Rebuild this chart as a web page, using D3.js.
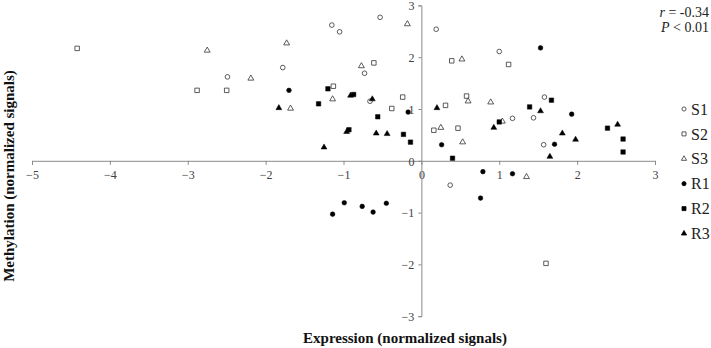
<!DOCTYPE html>
<html>
<head>
<meta charset="utf-8">
<script src="https://cdn.jsdelivr.net/npm/d3@7.8.5/dist/d3.min.js"></script>
<style>
  html, body { margin: 0; padding: 0; background: #fff; }
  svg { display: block; font-family: "Liberation Serif", "Times New Roman", serif; }
</style>
</head>
<body>
<svg id="chart" width="711" height="348"></svg>
<script>
// series values: [expression, methylation]
const S1 = [[-1.15, 2.62], [-1.05, 2.49], [-1.78, 1.80], [-2.49, 1.62], [-0.53, 2.77], [-0.73, 1.69],
  [-0.66, 1.15], [0.19, 2.54], [1.00, 2.11], [1.58, 1.23], [1.17, 0.82], [1.44, 0.83], [1.57, 0.31], [0.37, -0.47]];
const S2 = [[-4.42, 2.17], [-2.88, 1.36], [-2.50, 1.36], [-1.13, 1.44], [-0.61, 1.89], [-0.24, 1.23],
  [-0.38, 1.01], [0.39, 1.93], [1.12, 1.86], [0.58, 1.25], [0.31, 1.07], [0.16, 0.59], [0.47, 0.63], [1.60, -1.98]];
const S3 = [[-2.75, 2.13], [-1.73, 2.27], [-2.19, 1.59], [-1.68, 1.01], [-1.14, 1.19], [-0.77, 1.83],
  [-0.18, 2.64], [0.52, 1.96], [0.60, 1.15], [0.89, 1.13], [0.25, 0.64], [0.53, 0.36], [1.04, 0.76], [1.35, -0.31]];
const R1 = [[-1.70, 1.36], [-0.17, 0.94], [-1.14, -1.03], [-0.99, -0.81], [-0.76, -0.88], [-0.62, -0.99],
  [-0.45, -0.82], [1.53, 2.18], [0.26, 0.31], [0.79, -0.21], [1.17, -0.25], [0.76, -0.72], [1.71, 0.32], [1.93, 0.90]];
const R2 = [[-1.20, 1.39], [-1.32, 1.10], [-0.87, 1.28], [-0.56, 0.85], [-0.93, 0.60], [-0.23, 0.51],
  [-0.14, 0.36], [0.40, 0.05], [1.00, 0.75], [1.39, 1.04], [1.67, 1.17], [2.39, 0.63], [2.59, 0.42], [2.59, 0.17]];
const R3 = [[-1.83, 1.02], [-1.25, 0.26], [-0.91, 1.26], [-0.63, 1.19], [-0.96, 0.56], [-0.58, 0.53],
  [-0.44, 0.52], [0.20, 1.02], [0.93, 0.64], [1.53, 0.96], [1.65, 0.08], [1.81, 0.53], [1.98, 0.41], [2.52, 0.70]];

const seriesNames = ['S1', 'S2', 'S3', 'R1', 'R2', 'R3'];
const seriesData = [S1, S2, S3, R1, R2, R3];
const xTicks = [-5, -4, -3, -2, -1, 0, 1, 2, 3];
const yTicks = [-3, -2, -1, 0, 1, 2, 3];

const svg = d3.select('#chart');
const x = d3.scaleLinear().domain([-5, 3]).range([32, 655]);
const y = d3.scaleLinear().domain([-3, 3]).range([316.2, 5.4]);

const axisColor = '#8a8a8a';
const labelColor = '#404040';

// symbol per series: open for S, filled for R
const shapes = [d3.symbolCircle, d3.symbolSquare, d3.symbolTriangle];
const sizes = [17, 20, 15];
const styleOf = i => ({
  type: shapes[i % 3],
  size: sizes[i % 3],
  filled: i >= 3
});

// axes crossing at origin
const xAxis = svg.append('g')
  .attr('transform', `translate(0,${y(0)})`)
  .call(d3.axisBottom(x).tickValues(xTicks).tickSize(4).tickSizeOuter(4).tickPadding(6).tickFormat(d3.format('d')));
const yAxis = svg.append('g')
  .attr('transform', `translate(${x(0)},0)`)
  .call(d3.axisLeft(y).tickValues(yTicks).tickSize(3).tickSizeOuter(3).tickPadding(4).tickFormat(d3.format('d')));

[xAxis, yAxis].forEach(a => {
  a.select('.domain').attr('stroke', axisColor);
  a.selectAll('.tick line').attr('stroke', axisColor);
  a.selectAll('.tick text')
    .attr('fill', labelColor)
    .style('font-family', '"Liberation Serif", serif')
    .style('font-size', '12px');
});
yAxis.selectAll('.tick text').attr('dy', '0.36em');

// points
seriesData.forEach((pts, i) => {
  const st = styleOf(i);
  const sym = d3.symbol().type(st.type).size(st.size);
  svg.append('g')
    .selectAll('path')
    .data(pts)
    .enter()
    .append('path')
    .attr('d', sym)
    .attr('transform', d => `translate(${x(d[0])},${y(d[1])})`)
    .attr('fill', st.filled ? '#000' : '#fff')
    .attr('stroke', st.filled ? '#000' : '#333')
    .attr('stroke-width', st.filled ? 0.5 : 0.8);
});

// legend
const legend = svg.append('g').attr('transform', 'translate(684,109)');
seriesNames.forEach((name, i) => {
  const st = styleOf(i);
  const row = legend.append('g').attr('transform', `translate(0,${i * 24.9})`);
  row.append('path')
    .attr('d', d3.symbol().type(st.type).size(st.size * 0.8))
    .attr('fill', st.filled ? '#000' : '#fff')
    .attr('stroke', st.filled ? '#000' : '#333')
    .attr('stroke-width', 0.8);
  row.append('text')
    .attr('x', 7)
    .attr('dy', '0.35em')
    .attr('fill', '#222')
    .style('font-size', '16px')
    .text(name);
});

// correlation note
const note = svg.append('g').attr('fill', '#222').style('font-size', '14px');
note.append('text').attr('x', 709).attr('y', 17).attr('text-anchor', 'end')
  .html('<tspan font-style="italic">r</tspan> = -0.34');
note.append('text').attr('x', 709).attr('y', 32).attr('text-anchor', 'end')
  .html('<tspan font-style="italic">P</tspan> &lt; 0.01');

// axis titles
svg.append('text')
  .attr('x', 405).attr('y', 343)
  .attr('text-anchor', 'middle')
  .style('font-weight', 'bold').style('font-size', '15px')
  .attr('fill', '#111')
  .text('Expression (normalized signals)');
svg.append('text')
  .attr('transform', 'translate(14,176) rotate(-90)')
  .attr('text-anchor', 'middle')
  .style('font-weight', 'bold').style('font-size', '15px')
  .attr('fill', '#111')
  .text('Methylation (normalized signals)');
</script>
</body>
</html>
